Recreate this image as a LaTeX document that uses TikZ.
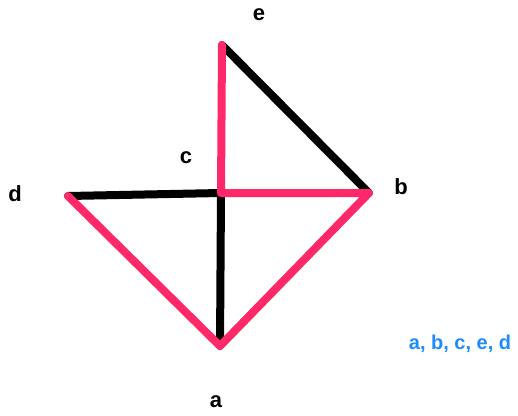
\documentclass[tikz,border=0pt]{standalone}
\usepackage{fontspec}
\setmainfont{Liberation Sans}
\definecolor{rosered}{RGB}{255,40,105}
\definecolor{skyblue}{RGB}{30,140,255}
\begin{document}
\begin{tikzpicture}[x=1pt, y=-1pt,
        edge/.style={line width=8pt, line cap=round, line join=round},
        blackedge/.style={edge, draw=black},
        pinkedge/.style={edge, draw=rosered},
        vlabel/.style={font=\bfseries\fontsize{22}{24}\selectfont, text=black,
          inner sep=0pt},
      ]
      \useasboundingbox (0, 0) rectangle (518, 415);

      \coordinate (a) at (220, 346);
      \coordinate (b) at (369, 193);
      \coordinate (c) at (221, 193);
      \coordinate (d) at (68, 196);
      \coordinate (e) at (222, 45);

      \draw[blackedge] (e) -- (b);
      \draw[blackedge] (d) -- (c);
      \draw[blackedge] (c) -- (a);

      \draw[pinkedge] (e) -- (c) -- (b) -- (a) -- (d);

      \node[vlabel] (la) at (216, 402) {a};
      \node[vlabel] (lb) at (401, 187) {b};
      \node[vlabel] (lc) at (186, 158) {c};
      \node[vlabel] (ld) at (15, 194) {d};
      \node[vlabel] (le) at (259, 15) {e};

      \node[font=\bfseries\fontsize{20}{22}\selectfont, text=skyblue,
        inner sep=0pt] (order) at (460, 344) {a, b, c, e, d};

    \end{tikzpicture}
\end{document}
